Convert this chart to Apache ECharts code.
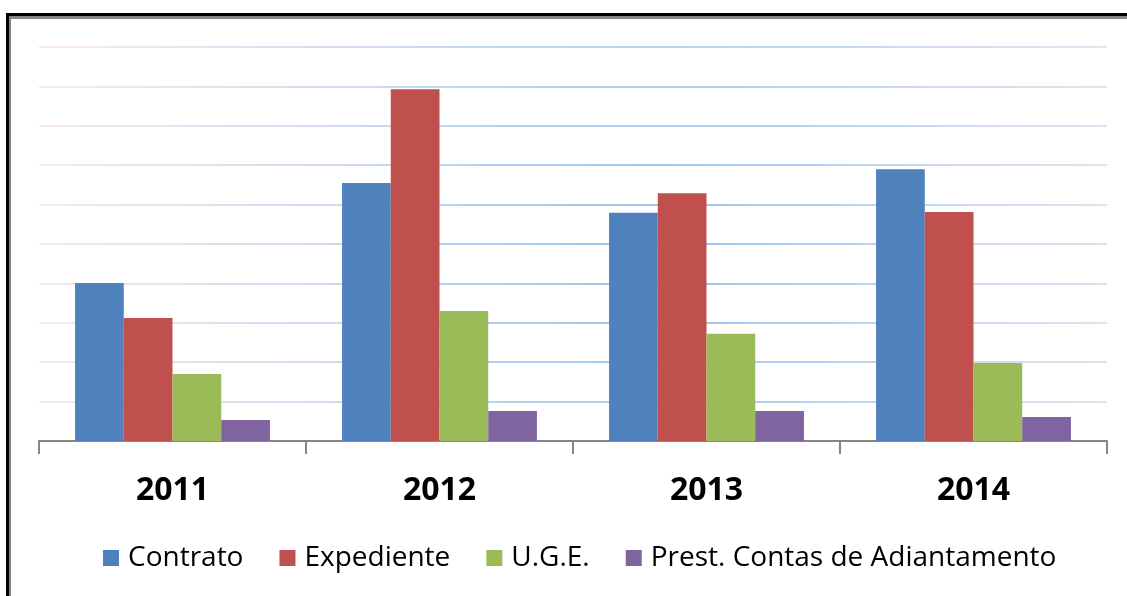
<!DOCTYPE html>
<html>
<head>
<meta charset="utf-8">
<script src="https://cdn.jsdelivr.net/npm/echarts@6/dist/echarts.min.js"></script>
<style>
  html, body { margin: 0; padding: 0; background: #fff; }
  #frame {
    position: absolute; left: 6px; top: 13px; width: 1121px; height: 583px;
    border-left: 3px solid #000; border-top: 3px solid #000; box-sizing: border-box;
  }
  #frame div {
    width: 100%; height: 100%;
    border-left: 2px solid #868686; border-top: 3px solid #868686; box-sizing: border-box;
  }
  #main { position: absolute; left: 0; top: 0; width: 1127px; height: 596px; }
</style>
</head>
<body>
<div id="frame"><div></div></div>
<div id="main"></div>
<script>
// anos e valores
var years = ['2011', '2012', '2013', '2014'];
var contrato = [40.1, 65.5, 57.9, 69.0];
var expediente = [31.2, 89.3, 62.9, 58.1];
var uge = [17.0, 33.0, 27.2, 19.8];
var prestContas = [5.3, 7.6, 7.6, 6.1];

var myChart = echarts.init(document.getElementById('main'));

// linhas de grade com degrade rosa -> azul
var gridColor = new echarts.graphic.RadialGradient(650, 260, 620, [
    {offset: 0, color: '#93c3f3'},
    {offset: 0.55, color: '#cfdcf0'},
    {offset: 1, color: '#fbe6f4'}
], true);

function barSerie(name, data, color) {
    return {
        name: name,
        type: 'bar',
        data: data,
        barGap: '0%',
        barCategoryGap: '27%',
        itemStyle: {color: color},
        emphasis: {disabled: true}
    };
}

var option = {
    animation: false,
    grid: {left: 39, right: 20, top: 47, bottom: 155, containLabel: false},
    legend: {
        top: 539,
        left: 98,
        itemWidth: 16,
        itemHeight: 16,
        itemGap: 36,
        icon: 'rect',
        textStyle: {fontFamily: 'Open Sans', fontSize: 28, color: '#000', padding: [0, 0, 0, 4]}
    },
    xAxis: {
        type: 'category',
        data: years,
        axisLine: {lineStyle: {color: '#868686', width: 2}},
        axisTick: {show: true, interval: 0, length: 13, lineStyle: {color: '#868686', width: 2}},
        axisLabel: {
            margin: 34,
            fontFamily: 'Open Sans',
            fontWeight: 'bold',
            fontSize: 32,
            color: '#000'
        }
    },
    yAxis: {
        type: 'value',
        min: 0,
        max: 100,
        interval: 10,
        axisLabel: {show: false},
        axisLine: {show: false},
        axisTick: {show: false},
        splitLine: {lineStyle: {color: gridColor, width: 2}}
    },
    series: [
        barSerie('Contrato', contrato, '#4f81bd'),
        barSerie('Expediente', expediente, '#c0504d'),
        barSerie('U.G.E.', uge, '#9bbb59'),
        barSerie('Prest. Contas de Adiantamento', prestContas, '#8064a2')
    ]
};
myChart.setOption(option);
</script>
</body>
</html>
